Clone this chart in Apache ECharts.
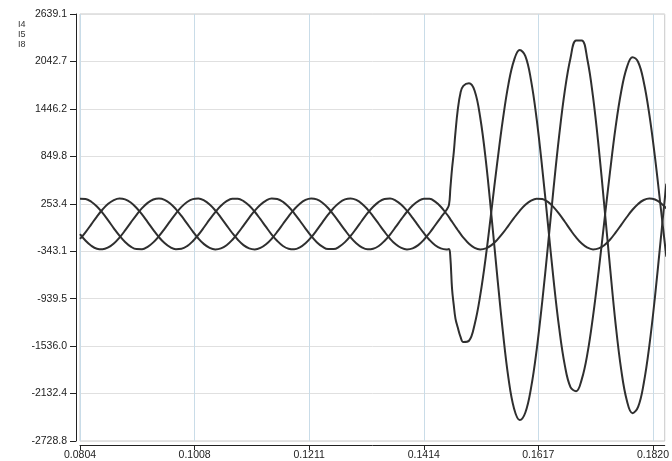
<!DOCTYPE html>
<html><head><meta charset="utf-8">
<script src="https://cdn.jsdelivr.net/npm/echarts@6/dist/echarts.min.js"></script>
<style>html,body{margin:0;padding:0;background:#fff}#c{width:672px;height:461px}</style>
</head><body><div id="c"></div>
<script>
// sample times (s)
const time = [
0.0804,0.0814,0.0824,0.0834,0.0844,0.0854,0.0864,0.0874,0.0884,0.0894,
0.0904,0.0914,0.0924,0.0934,0.0944,0.0954,0.0964,0.0974,0.0984,0.0994,
0.1004,0.1014,0.1024,0.1034,0.1044,0.1054,0.1064,0.1074,0.1084,0.1094,
0.1104,0.1114,0.1124,0.1134,0.1144,0.1154,0.1164,0.1174,0.1184,0.1194,
0.1204,0.1214,0.1224,0.1234,0.1244,0.1254,0.1264,0.1274,0.1284,0.1294,
0.1304,0.1314,0.1324,0.1334,0.1344,0.1354,0.1364,0.1374,0.1384,0.1394,
0.1404,0.1414,0.1424,0.1434,0.1444,0.1454,
0.14585,0.1461,0.1464,0.1467,0.1470,0.1474,0.1479,0.1484,
0.1494,0.1504,0.1514,0.1524,0.1534,0.1544,0.1554,0.1564,0.1574,0.1584,
0.1594,0.1604,0.1614,0.1624,0.1634,0.1644,0.1654,0.1664,0.1674,0.1684,
0.1694,0.1704,0.1714,0.1724,0.1734,0.1744,0.1754,0.1764,0.1774,0.1784,
0.1794,0.1804,0.1814,0.1824,0.1834,0.1844
];
const i4 = [
-189,-102,-5,93,181,253,300,320,309,269,
204,119,23,-75,-166,-241,-293,-318,-313,-279,
-217,-136,-42,57,149,228,286,316,316,287,
231,153,60,-38,-133,-215,-277,-312,-319,-295,
-243,-169,-78,20,116,201,267,308,320,302,
255,184,96,-1,-98,-186,-256,-302,-320,-307,
-266,-199,-114,-17,80,175,
240,450,700,900,1150,1430,1650,1735,
1768,1674,1335,790,93,-646,-1348,-1938,-2322,-2465,
-2370,-2064,-1585,-972,-279,446,1112,1675,2084,2305,
2306,2068,1599,969,231,-530,-1252,-1832,-2220,-2379,
-2300,-2003,-1526,-910,-203,506
];
const i5 = [
-129,-212,-275,-312,-319,-296,-246,-172,-82,16,
112,198,265,307,320,303,257,187,100,3,
-94,-183,-254,-301,-320,-308,-268,-202,-117,-21,
77,167,242,294,319,313,278,216,134,40,
-58,-151,-230,-286,-316,-316,-286,-229,-151,-58,
40,135,216,278,313,319,294,242,167,76,
-22,-117,-202,-268,-308,-320,
-316,-430,-820,-1020,-1190,-1300,-1420,-1485,
-1469,-1263,-896,-403,178,764,1307,1758,2060,2185,
2110,1808,1320,696,1,-700,-1311,-1778,-2051,-2102,
-1954,-1634,-1161,-592,28,645,1214,1665,1968,2096,
2036,1785,1371,834,213,-411
];
const i8 = [
318,314,279,219,138,44,-55,-148,-227,-285,
-316,-317,-288,-232,-154,-62,36,131,214,276,
312,319,296,245,170,80,-18,-114,-199,-266,
-307,-320,-302,-256,-186,-98,-1,96,184,255,
302,320,308,267,201,115,19,-78,-169,-243,
-295,-319,-312,-277,-215,-133,-38,60,153,231,
287,317,316,280,216,128,
85,58,27,-4,-35,-76,-126,-171,
-250,-301,-320,-307,-266,-200,-117,-21,76,165,
240,293,318,313,277,212,126,27,-75,-170,
-247,-298,-320,-308,-267,-199,-110,-12,87,178,
251,301,320,307,264,195
];
const seriesNames = ['I4','I5','I8'];
const xTickValues = [0.0804,0.10073,0.12105,0.14138,0.1617,0.18203];
const xTickLabels = ['0.0804','0.1008','0.1211','0.1414','0.1617','0.1820'];
const yTickValues = [-2728.8,-2132.4,-1536.0,-939.5,-343.1,253.4,849.8,1446.2,2042.7,2639.1];

const chart = echarts.init(document.getElementById('c'), null, {renderer:'canvas'});
const font = "'Liberation Sans', Arial, sans-serif";
const mk = (name, vals) => ({
  name, type:'line', showSymbol:false, symbol:'none', smooth:0.4, clip:true,
  lineStyle:{color:'#2f2f2f', width:2}, itemStyle:{color:'#2f2f2f'},
  data: time.map((t,i)=>[t, vals[i]])
});
chart.setOption({
  animation:false,
  backgroundColor:'#fff',
  textStyle:{fontFamily:font},
  legend:{data:seriesNames, orient:'vertical', left:8, top:15, icon:'none',
    itemWidth:0, itemHeight:8, itemGap:1,
    textStyle:{fontSize:9, color:'#333', lineHeight:9, fontFamily:font}},
  grid:{left:80, right:-2, top:14, bottom:20, show:true, borderColor:'#c8c8c8', borderWidth:1},
  xAxis:{type:'value', min:0.0804, max:0.18412, offset:4,
    axisLine:{onZero:false, lineStyle:{color:'#222', width:1}},
    axisTick:{customValues:xTickValues, length:5, lineStyle:{color:'#222'}},
    axisLabel:{customValues:xTickValues, margin:5, fontSize:10.5, color:'#222', fontFamily:font,
      formatter:v=>{const i=xTickValues.findIndex(x=>Math.abs(x-v)<1e-6);return i>=0?xTickLabels[i]:'';}},
    splitLine:{show:true, lineStyle:{color:'#c9dce8', width:1}}},
  yAxis:{type:'value', min:-2728.8, max:2639.1, offset:4,
    axisLine:{show:true, onZero:false, lineStyle:{color:'#222', width:1}},
    axisTick:{show:true, customValues:yTickValues, length:6, lineStyle:{color:'#222'}},
    axisLabel:{customValues:yTickValues, margin:9, fontSize:10.5, color:'#222', fontFamily:font,
      formatter:v=>Number(v).toFixed(1)},
    splitLine:{show:true, lineStyle:{color:'#e0e0e0', width:1}}},
  series:[mk(seriesNames[0], i4), mk(seriesNames[1], i5), mk(seriesNames[2], i8)]
});
</script></body></html>
